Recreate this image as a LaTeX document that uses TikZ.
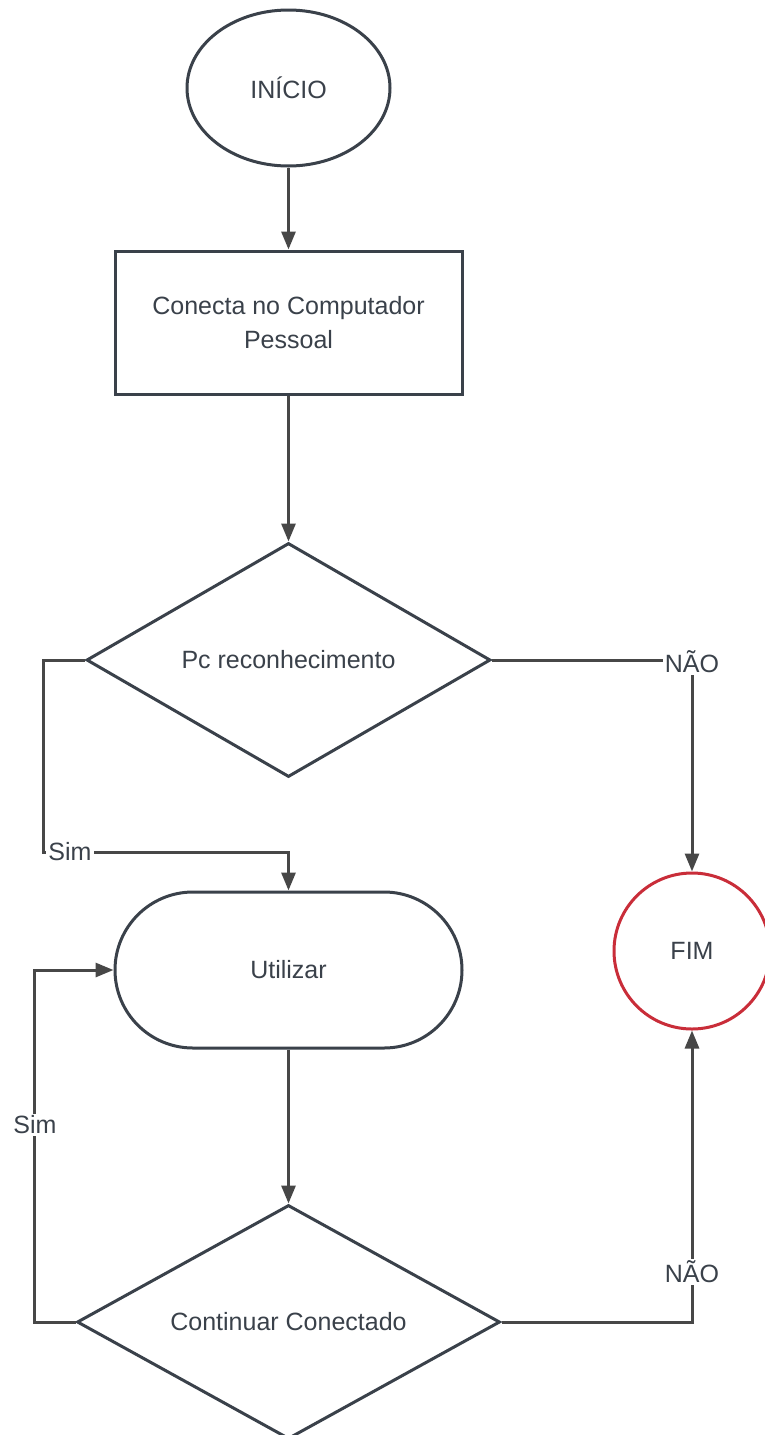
\documentclass[tikz,border=0pt]{standalone}
\usepackage{fontspec}
\setmainfont{Liberation Sans}
\usetikzlibrary{shapes.geometric,arrows.meta}
\definecolor{ink}{HTML}{3A414A}
\definecolor{wire}{HTML}{474747}
\definecolor{endred}{HTML}{C92D39}
\begin{document}
\begin{tikzpicture}[x=1pt,y=-1pt,
  every node/.style={font=\fontsize{25}{34}\selectfont, text=ink},
  shapeline/.style={draw=ink, line width=3pt, fill=white, inner sep=0pt},
  conn/.style={draw=wire, line width=3pt, -{Triangle[length=18pt,width=14pt]}},
  lbl/.style={fill=white, inner sep=2pt}]
\fill[white] (0,0) rectangle (765,1435);
\useasboundingbox (0,0) rectangle (765,1435);

% flow shapes
\node[shapeline, ellipse, minimum width=203pt, minimum height=156pt] (ini) at (288.5,88) {INÍCIO};
\node[shapeline, rectangle, minimum width=347pt, minimum height=143pt, align=center] (con) at (288.5,322.5) {Conecta no Computador\\Pessoal};
\node[shapeline, diamond, aspect=1.7, minimum width=404pt, minimum height=234pt] (pc) at (288.5,660) {Pc reconhecimento};
\node[shapeline, rectangle, rounded corners=78pt, minimum width=347pt, minimum height=156pt] (util) at (288.5,970) {Utilizar};
\node[shapeline, diamond, aspect=1.8, minimum width=423pt, minimum height=234pt] (cc) at (288.5,1322) {Continuar Conectado};
\node[draw=endred, line width=3pt, fill=white, circle, minimum size=156pt, inner sep=0pt] (fim) at (692,951) {FIM};

% bend points
\coordinate (k1) at (43,852);
\coordinate (k2) at (692,660);
\coordinate (k3) at (34,1322);
\coordinate (k4) at (34,970);
\coordinate (k5) at (692,1322);

% connectors
\draw[conn] (ini.south) -- (con.north);
\draw[conn] (con.south) -- (pc.north);
\draw[conn] (pc.west) -| (k1) -| (util.north);
\draw[conn] (pc.east) -- (k2) -- (fim.north);
\draw[conn] (util.south) -- (cc.north);
\draw[conn] (cc.west) -- (k3) -- (k4) -- (util.west);
\draw[conn] (cc.east) -- (k5) -- (fim.south);

% branch labels
\node[lbl] (sim1) at (70,852) {Sim};
\node[lbl] (nao1) at (692,662) {NÃO};
\node[lbl] (sim2) at (35,1125) {Sim};
\node[lbl] (nao2) at (692,1272) {NÃO};
\end{tikzpicture}
\end{document}
